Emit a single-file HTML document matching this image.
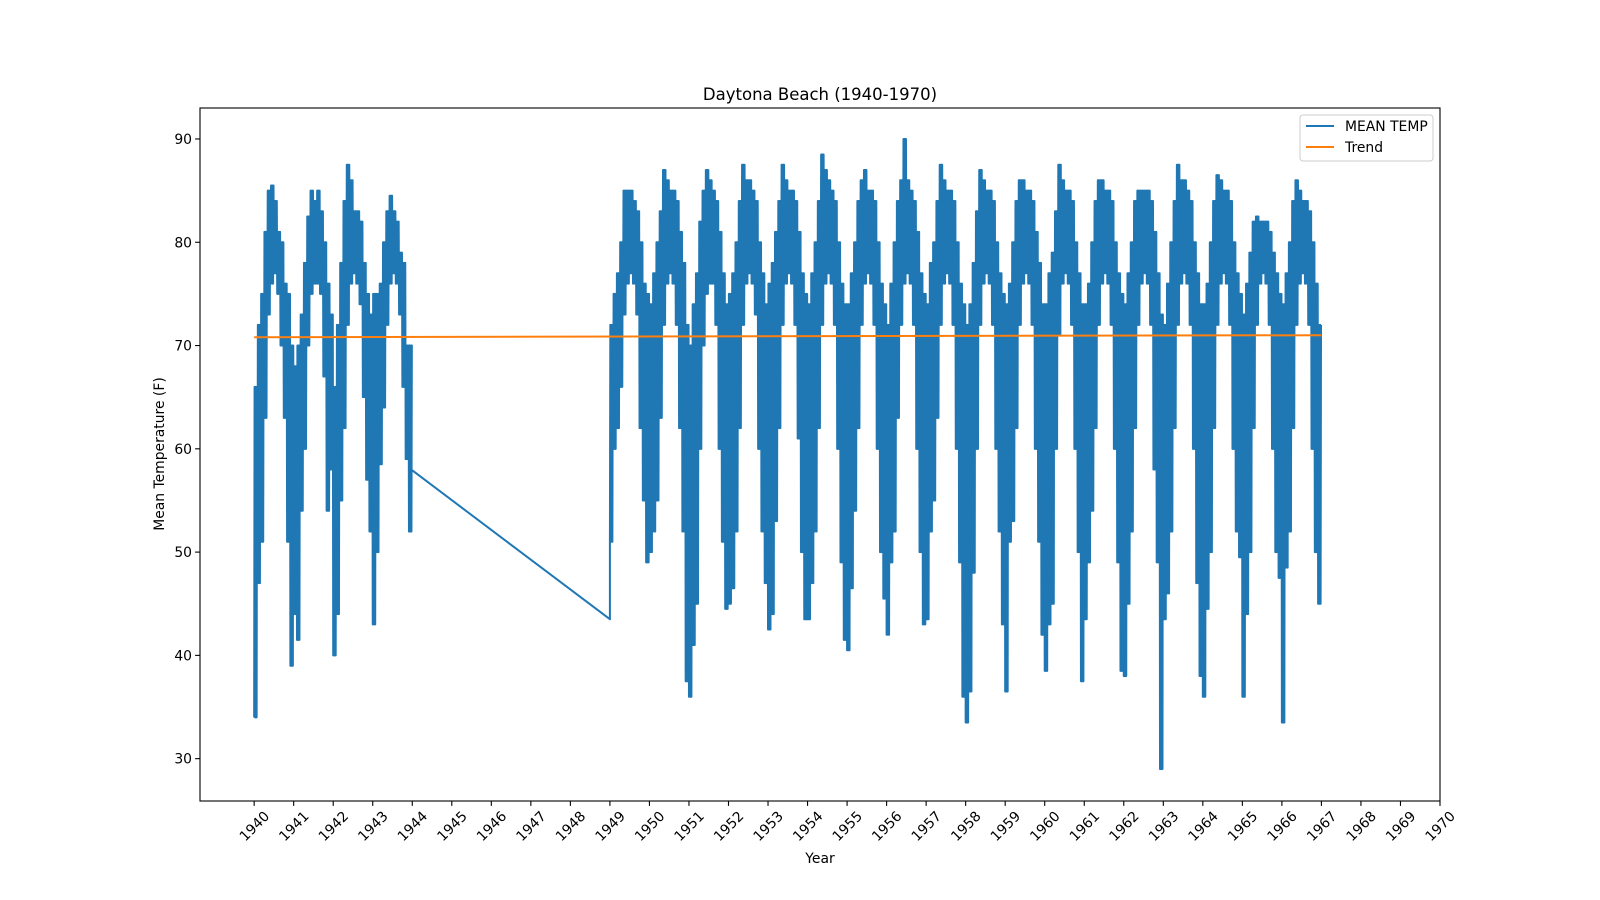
<!DOCTYPE html>
<html><head><meta charset="utf-8"><style>
html,body{margin:0;padding:0;background:#fff;}
svg{display:block;font-family:"DejaVu Sans","Liberation Sans",sans-serif;}
</style></head><body>
<svg id="chart" width="1600" height="900" viewBox="0 0 1600 900" xmlns="http://www.w3.org/2000/svg">
<rect width="1600" height="900" fill="#fff"/>
<text x="820" y="100" font-size="16.5" text-anchor="middle" fill="#000">Daytona Beach (1940-1970)</text>
<g id="plot"></g>
<g id="yaxis"></g>
<g id="xaxis"></g>
<text x="820" y="863" font-size="13.9" text-anchor="middle">Year</text>
<text transform="translate(164,454) rotate(-90)" font-size="13.9" text-anchor="middle">Mean Temperature (F)</text>
<rect x="200" y="108" width="1240" height="693" fill="none" stroke="#000" stroke-width="1.1"/>
<g>
<rect x="1300" y="115" width="133" height="46" rx="3" fill="#fff" fill-opacity="0.8" stroke="#ccc"/>
<line x1="1306" y1="126" x2="1334" y2="126" stroke="#1f77b4" stroke-width="2"/>
<text x="1345" y="131" font-size="13.9">MEAN TEMP</text>
<line x1="1306" y1="147" x2="1334" y2="147" stroke="#ff7f0e" stroke-width="2"/>
<text x="1345" y="152" font-size="13.9">Trend</text>
</g>
</svg>
<script>
const years = [1940,1941,1942,1943,1949,1950,1951,1952,1953,1954,1955,1956,1957,1958,1959,1960,1961,1962,1963,1964,1965,1966];
const monthLows = [
[34,47,51,63,73,76,77,75,70,63,51,39],
[44,41.5,54,60,70,75,76,76,75,67,54,58],
[40,44,55,62,72,76,77,76,74,65,57,52],
[43,50,58.5,64,72,76,77,76,73,66,59,52],
[51,60,62,66,73,76,77,76,73,62,55,49],
[50,52,55,63,72,76,77,76,72,62,52,37.5],
[36,41,45,60,70,75,76,76,72,60,51,44.5],
[45,46.5,52,62,72,76,77,76,73,60,52,47],
[42.5,44,53,62,72,76,77,76,72,61,50,43.5],
[43.5,47,52,62,72,76,77,76,72,60,49,41.5],
[40.5,46.5,54,62,72,76,77,76,72,60,50,45.5],
[42,49,52,63,72,76,77,76,72,60,50,43],
[43.5,52,55,63,72,76,77,76,72,60,49,36],
[33.5,36.5,48,60,72,76,77,76,72,60,52,43],
[36.5,51,53,62,72,76,77,76,72,60,51,42],
[38.5,43,45,60,71,76,77,76,72,60,50,37.5],
[43.5,49,54,62,72,76,77,76,72,60,49,38.5],
[38,45,52,62,72,76,77,76,72,58,49,29],
[43.5,46,52,62,72,76,77,76,72,60,47,38],
[36,44.5,50,62,72,76,77,76,72,60,52,49.5],
[36,44,50,62,72,76,77,76,72,60,50,47.5],
[33.5,48.5,52,62,72,76,77,76,72,60,50,45]
];
const monthHighs = [
[66,72,75,81,85,85.5,84,81,80,76,75,70],
[68,70,73,78,82.5,85,84,85,83,80,76,73],
[66,72,78,84,87.5,86,83,83,82,78,75,73],
[75,75,76,80,83,84.5,83,82,79,78,70,70],
[72,75,77,80,85,85,85,84,83,80,76,75],
[74,77,80,83,87,86,85,85,84,81,78,72],
[70,74,77,82,85,87,86,85,84,81,77,74],
[75,77,80,84,87.5,86,86,85,84,80,77,74],
[76,78,81,84,87.5,86,85,85,84,81,77,75],
[74,77,80,84,88.5,87,86,85,84,80,76,74],
[74,77,80,84,86,87,85,85,84,80,76,74],
[72,76,80,84,86,90,86,85,84,81,77,75],
[74,78,80,84,87.5,86,85,85,84,80,76,74],
[72,74,78,83,87,86,85,85,84,80,77,75],
[74,76,80,84,86,86,85,85,84,81,78,74],
[74,77,79,83,87.5,86,85,85,84,80,77,74],
[74,76,80,84,86,86,85,85,84,80,77,75],
[74,77,80,84,85,85,85,85,84,81,77,73],
[72,76,80,84,87.5,86,86,85,84,80,77,74],
[74,76,80,84,86.5,86,85,85,84,80,77,75],
[73,76,79,82,82.5,82,82,82,81,79,77,75],
[74,77,80,84,86,85,84,84,83,80,76,72]
];
const gapStartValue = 58;
const gapEndValue = 43.5;
const trendStart = 70.8;
const trendEnd = 71.0;
const yTicks = [30,40,50,60,70,80,90];
const xTickYears = [1940,1941,1942,1943,1944,1945,1946,1947,1948,1949,1950,1951,1952,1953,1954,1955,1956,1957,1958,1959,1960,1961,1962,1963,1964,1965,1966,1967,1968,1969,1970];

const NS='http://www.w3.org/2000/svg';
const X0=200,X1=1440,Y0=108,Y1=801;
const XMIN=1938.63,XMAX=1970,YMIN=25.9,YMAX=93;
function sx(v){return X0+(v-XMIN)/(XMAX-XMIN)*(X1-X0);}
function sy(v){return Y1-(v-YMIN)/(YMAX-YMIN)*(Y1-Y0);}
function el(t,a,p){const e=document.createElementNS(NS,t);for(const k in a)e.setAttribute(k,a[k]);p.appendChild(e);return e;}

const plot=document.getElementById('plot');
let pts=[];
const N=8;
years.forEach((yr,i)=>{
  if(yr===1949){pts.push([sx(1943.97),sy(gapStartValue)]);pts.push([sx(1949.0),sy(gapEndValue)]);}
  for(let m=0;m<12;m++){
    const lo=monthLows[i][m],hi=monthHighs[i][m];
    for(let k=0;k<N;k++){
      const t=yr+(m+k/N)/12;
      pts.push([sx(t),sy(k%2===0?lo:hi)]);
    }
  }
});
const d='M'+pts.map(p=>p[0].toFixed(2)+','+p[1].toFixed(2)).join('L');
const line=el('path',{d:d,fill:'none',stroke:'#1f77b4','stroke-width':2,'stroke-linejoin':'round'},plot);


const tr=el('line',{x1:sx(1940),y1:sy(trendStart),x2:sx(1967),y2:sy(trendEnd),stroke:'#ff7f0e','stroke-width':2},plot);



const ya=document.getElementById('yaxis');
yTicks.forEach(v=>{
  const y=sy(v);
  const t=el('line',{x1:X0-4.9,x2:X0,y1:y,y2:y,stroke:'#000','stroke-width':1.1},ya);
  
  
  const l=el('text',{x:X0-8,y:y+5,'font-size':13.9,'text-anchor':'end'},ya);
  l.textContent=v;
  
  
});
const xa=document.getElementById('xaxis');
xTickYears.forEach(v=>{
  const x=sx(v);
  const t=el('line',{x1:x,x2:x,y1:Y1,y2:Y1+4.9,stroke:'#000','stroke-width':1.1},xa);
  
  
  const l=el('text',{x:0,y:5,'font-size':13.9,'text-anchor':'middle',transform:'translate('+x+',826) rotate(-45)'},xa);
  l.textContent=v;
  
  
});
</script>
</body></html>
